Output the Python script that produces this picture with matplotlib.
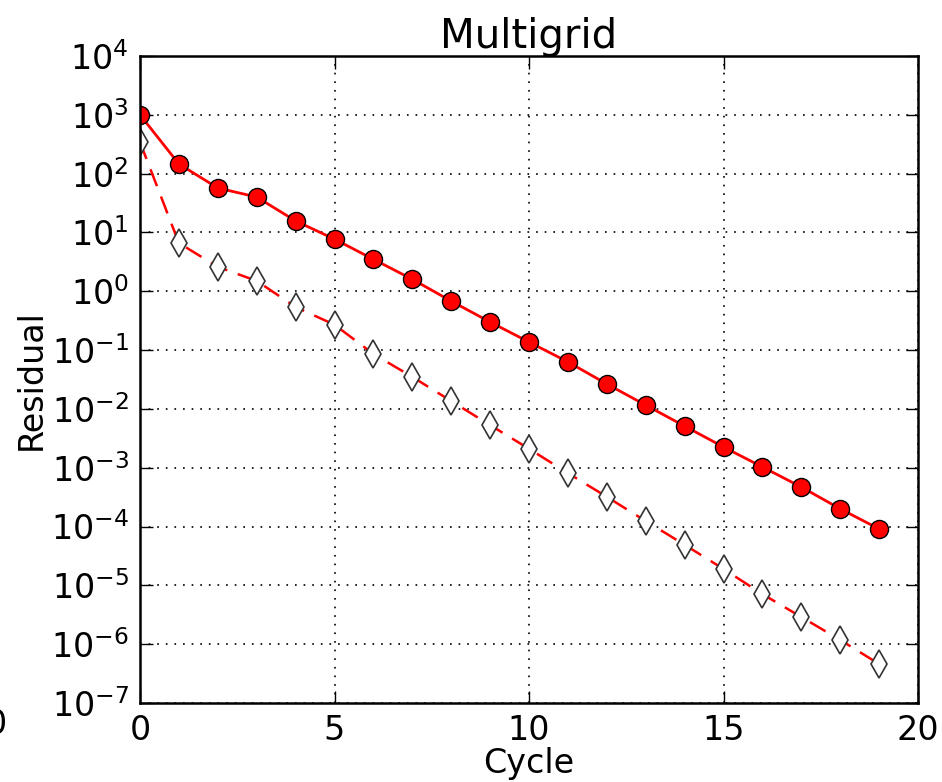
import matplotlib
matplotlib.use("Agg")
import matplotlib.pyplot as plt
from matplotlib.ticker import LogLocator, NullLocator

cycles = list(range(20))
residual_mg = [1000, 146, 57, 40, 15.7, 7.7, 3.5, 1.6, 0.68, 0.30,
               0.137, 0.063, 0.0265, 0.0116, 0.0051, 0.00225, 0.00103,
               4.7e-4, 2.0e-4, 9.1e-5]
residual_fmg = [344, 6.6, 2.6, 1.5, 0.54, 0.27, 0.086, 0.035, 0.0136,
                0.0053, 0.0021, 8.1e-4, 3.2e-4, 1.24e-4, 4.9e-5, 1.9e-5,
                7.1e-6, 2.9e-6, 1.18e-6, 4.6e-7]

plt.rcParams["lines.scale_dashes"] = False

fig = plt.figure(figsize=(9.42, 7.82), dpi=100)
ax = fig.add_axes([140 / 942, 1 - 703 / 782, 778 / 942, 647 / 782])

ax.semilogy(cycles, residual_fmg, color="red", lw=1.8, dashes=(13, 8),
            marker="d", ms=14, mfc="white", mec="#333333", mew=1.2)
ax.semilogy(cycles, residual_mg, color="red", lw=2.0, ls="-",
            marker="o", ms=13, mfc="red", mec="black", mew=1.0)

ax.set_xlim(0, 20)
ax.set_ylim(1e-7, 1e4)
ax.set_xticks([0, 5, 10, 15, 20])
ax.yaxis.set_major_locator(LogLocator(base=10, numticks=20))
ax.yaxis.set_minor_locator(NullLocator())

ax.grid(True, color="#222222", ls=(0, (1.2, 5)), lw=1.4)
ax.tick_params(direction="in", length=9, width=1, labelsize=24,
               top=True, right=True, pad=8)
for s in ax.spines.values():
    s.set_linewidth(1.8)

ax.set_title("Multigrid", fontsize=29, pad=6)
ax.set_xlabel("Cycle", fontsize=24, labelpad=0)
ax.set_ylabel("Residual", fontsize=24, labelpad=2)

# stray clipped label at the left edge
fig.text(-4 / 942, 1 - 724 / 782, "0", fontsize=24, ha="center", va="center")

fig.savefig("out.png", dpi=100)
